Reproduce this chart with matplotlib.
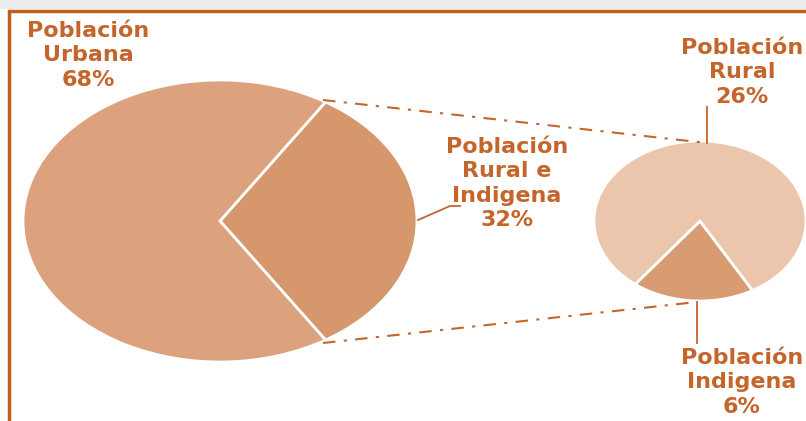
import matplotlib
matplotlib.use("Agg")
import matplotlib.pyplot as plt
from matplotlib.patches import Rectangle
from matplotlib.lines import Line2D

plt.rcParams["font.family"] = ["DejaVu Sans"]

# data
big_labels = ["Población Rural e Indigena", "Población Urbana"]
big_values = [32, 68]
small_labels = ["Población Indigena", "Población Rural"]
small_values = [6, 26]

C_TXT = "#C4652C"
C_URB, C_RI = "#DCA27E", "#D6976C"
C_RUR, C_IND = "#EBC6AC", "#D99B72"

W, H = 806, 421
fig = plt.figure(figsize=(W / 100, H / 100), dpi=100)

def px_axes(cx, cy, a, b):
    # axes placed in pixel coords (y from top), pie drawn stretched to an ellipse
    return fig.add_axes([(cx - a) / W, (H - cy - b) / H, 2 * a / W, 2 * b / H])

# background strip + frame
fig.patches.append(Rectangle((0, 1 - 9 / H), 1, 9 / H, transform=fig.transFigure,
                             facecolor="#EDEDED", edgecolor="none", zorder=0))
fig.patches.append(Rectangle((8.5 / W, -0.1), 1.2, 1.1 - 11 / H, transform=fig.transFigure,
                             facecolor="none", edgecolor="#C0601F", lw=2.5, zorder=1))

# big pie
ax1 = px_axes(220, 221, 197, 141)
span = 360 * big_values[0] / sum(big_values)
ax1.pie(big_values, colors=[C_RI, C_URB], startangle=-span / 2, counterclock=True,
        wedgeprops=dict(edgecolor="white", linewidth=2))
ax1.set_aspect("auto"); ax1.set_xlim(-1, 1); ax1.set_ylim(-1, 1); ax1.axis("off")

# small pie
ax2 = px_axes(700, 221, 106, 80)
span2 = 360 * small_values[0] / sum(small_values)
ax2.pie(small_values, colors=[C_IND, C_RUR], startangle=-94 - span2 / 2, counterclock=True,
        wedgeprops=dict(edgecolor="white", linewidth=2))
ax2.set_aspect("auto"); ax2.set_xlim(-1, 1); ax2.set_ylim(-1, 1); ax2.axis("off")

# connector and leader lines (pixel coords, y from top)
def pline(xs, ys, **kw):
    fig.lines.append(Line2D([x / W for x in xs], [1 - y / H for y in ys],
                            transform=fig.transFigure, color=C_TXT, **kw))

pline([323, 707], [100, 143], lw=1.5, ls=(0, (6, 4, 1.5, 4)))
pline([323, 697], [343, 302], lw=1.5, ls=(0, (6, 4, 1.5, 4)))
pline([418, 450, 460], [220, 206, 206], lw=1.3)
pline([707, 707], [107, 143], lw=1.3)
pline([697, 697], [302, 343], lw=1.3)

# labels
def label(x, y, s):
    fig.text(x / W, 1 - y / H, s, ha="center", va="top", color=C_TXT,
             fontsize=16, fontweight="bold", linespacing=1.27)

label(88, 21, "Población\nUrbana\n68%")
label(742, 38, "Población\nRural\n26%")
label(507, 137, "Población\nRural e\nIndigena\n32%")
label(742, 348, "Población\nIndigena\n6%")

fig.savefig("out.png", dpi=100)
